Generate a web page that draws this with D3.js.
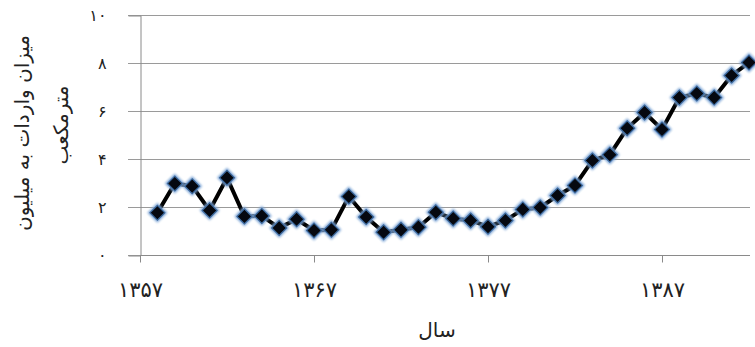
<!DOCTYPE html>
<html>
<head>
<meta charset="utf-8">
<script src="https://cdn.jsdelivr.net/npm/d3@7"></script>
<style>
  body { margin: 0; background: #fff; }
  svg { display: block; }
  text { font-family: "DejaVu Serif", "DejaVu Sans", serif; fill: #222; }
</style>
</head>
<body>
<svg id="chart" width="755" height="347"></svg>
<script>
// data
const years = d3.range(1358, 1393)
const imports = [
  1.78, 3.0, 2.89, 1.88, 3.24, 1.63, 1.65, 1.15, 1.51, 1.04,
  1.07, 2.46, 1.6, 0.97, 1.07, 1.18, 1.8, 1.54, 1.46, 1.2,
  1.46, 1.92, 2.0, 2.5, 2.92, 3.96, 4.2, 5.3, 5.96, 5.25,
  6.58, 6.75, 6.58, 7.5, 8.04
]
const yTicks = [0, 2, 4, 6, 8, 10]
const xTicks = [1357, 1367, 1377, 1387]
const yTitle = ["میزان واردات به میلیون", "مترمکعب"]
const xTitle = "سال"

const fa = (n) => String(n).replace(/\d/g, (c) => "۰۱۲۳۴۵۶۷۸۹"[c])

const svg = d3.select("#chart")
const x = d3.scaleLinear().domain([1357, 1392]).range([140, 749])
const y = d3.scaleLinear().domain([0, 10]).range([255.5, 15.5])

// blur for the marker glow
svg.append("defs").append("filter")
  .attr("id", "glow").attr("x", "-50%").attr("y", "-50%").attr("width", "200%").attr("height", "200%")
  .append("feGaussianBlur").attr("stdDeviation", 1.3)

// grid lines
svg.append("g")
  .selectAll("line")
  .data(yTicks)
  .join("line")
  .attr("x1", 128).attr("x2", 750)
  .attr("y1", (d) => y(d)).attr("y2", (d) => y(d))
  .attr("stroke", "#9a9a9a").attr("stroke-width", 1)

// y axis
const yAxis = svg.append("g")
  .attr("transform", "translate(140.5,0)")
  .call(d3.axisLeft(y).tickValues(yTicks).tickSize(12).tickPadding(22).tickFormat(fa))
yAxis.select(".domain").attr("stroke", "#8a8a8a")
yAxis.selectAll(".tick line").remove()
yAxis.selectAll("text").style("font-size", "16px").attr("fill", "#222")

// x axis
const xAxis = svg.append("g")
  .attr("transform", "translate(0,255.5)")
  .call(d3.axisBottom(x).tickValues(xTicks).tickSize(7).tickPadding(20).tickFormat(fa))
xAxis.select(".domain").attr("stroke", "#8a8a8a").attr("d", "M140,0H750")
xAxis.selectAll(".tick line").attr("stroke", "#8a8a8a")
xAxis.selectAll("text").style("font-size", "21px").attr("fill", "#222")

// series line
const pts = years.map((yr, i) => ({ year: yr, value: imports[i] }))
svg.append("path")
  .datum(pts)
  .attr("fill", "none")
  .attr("stroke", "#000")
  .attr("stroke-width", 4)
  .attr("d", d3.line().x((d) => x(d.year)).y((d) => y(d.value)))

// markers
const sq = d3.symbol(d3.symbolSquare)
const mk = svg.append("g")
mk.selectAll("path.glow")
  .data(pts)
  .join("path")
  .attr("class", "glow")
  .attr("d", sq.size(200))
  .attr("transform", (d) => `translate(${x(d.year)},${y(d.value)}) rotate(45)`)
  .attr("fill", "#7fa6d6")
  .attr("filter", "url(#glow)")
mk.selectAll("path.dot")
  .data(pts)
  .join("path")
  .attr("class", "dot")
  .attr("d", sq.size(110))
  .attr("transform", (d) => `translate(${x(d.year)},${y(d.value)}) rotate(45)`)
  .attr("fill", "#050810")
  .attr("stroke", "#3d6a9e")
  .attr("stroke-width", 1.2)

// titles
svg.append("text")
  .attr("transform", "translate(29,133) rotate(-90)")
  .attr("text-anchor", "middle")
  .style("font-size", "20px")
  .text(yTitle[0])
svg.append("text")
  .attr("transform", "translate(68,125) rotate(-90)")
  .attr("text-anchor", "middle")
  .style("font-size", "20px")
  .text(yTitle[1])
svg.append("text")
  .attr("x", 437).attr("y", 337)
  .attr("text-anchor", "middle")
  .style("font-size", "20px")
  .text(xTitle)
</script>
</body>
</html>
